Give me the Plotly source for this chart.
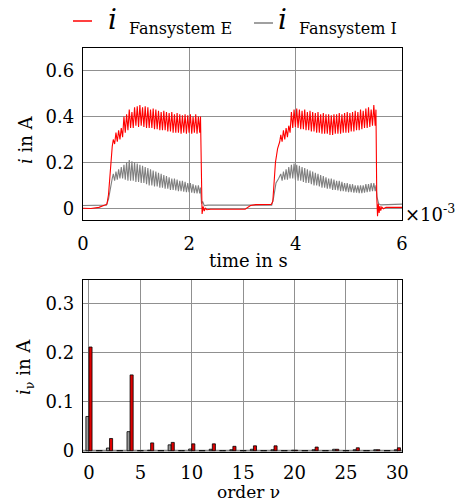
import plotly.graph_objects as go

FONT = "DejaVu Serif"
RED = "#ff0000"
GRAY = "#808080"
GRID = "#909090"
W, H = 461, 503

# ---------------- time signal (time in ms, current in A) ----------------
CYCLE_MS = 0.05  # switching period of the ripple

# Fansystem E (red)
e_pre_t = [0.0, 0.15, 0.30, 0.38, 0.45, 0.48, 0.52, 0.55]
e_pre_i = [0.0, -0.001, 0.004, 0.012, 0.018, 0.06, 0.20, 0.27]
e_p1_start = 0.57
e_p1_peak = [0.30, 0.33, 0.34, 0.35, 0.40, 0.41, 0.43, 0.42, 0.44, 0.445, 0.45,
             0.44, 0.445, 0.44, 0.43, 0.435, 0.43, 0.425, 0.42, 0.425, 0.42, 0.415,
             0.42, 0.41, 0.415, 0.41, 0.405, 0.41, 0.405, 0.41, 0.40, 0.41, 0.40]
e_p1_trough = [0.28, 0.29, 0.30, 0.31, 0.33, 0.34, 0.35, 0.35, 0.36, 0.355, 0.36,
               0.355, 0.35, 0.35, 0.35, 0.345, 0.345, 0.34, 0.34, 0.34, 0.335, 0.335,
               0.33, 0.33, 0.33, 0.325, 0.33, 0.325, 0.33, 0.325, 0.33, 0.325, 0.33]
e_mid_t = [2.21, 2.225, 2.24, 2.26, 2.28, 2.30, 2.33, 2.40, 3.05, 3.15, 3.25,
           3.54, 3.57, 3.62, 3.66, 3.70]
e_mid_i = [0.40, 0.05, -0.025, 0.008, -0.012, 0.0, -0.006, -0.004, -0.004, 0.012,
           0.016, 0.017, 0.03, 0.20, 0.26, 0.29]
e_p2_start = 3.72
e_p2_peak = [0.32, 0.34, 0.35, 0.36, 0.42, 0.43, 0.435, 0.43, 0.425, 0.43, 0.42,
             0.425, 0.42, 0.415, 0.42, 0.41, 0.415, 0.41, 0.41, 0.405, 0.41, 0.41,
             0.415, 0.41, 0.415, 0.42, 0.415, 0.42, 0.425, 0.42, 0.43, 0.425, 0.435,
             0.44, 0.43, 0.45]
e_p2_trough = [0.29, 0.30, 0.31, 0.33, 0.35, 0.355, 0.35, 0.345, 0.345, 0.34, 0.34,
               0.335, 0.335, 0.33, 0.33, 0.325, 0.325, 0.325, 0.32, 0.32, 0.325,
               0.325, 0.325, 0.33, 0.33, 0.33, 0.335, 0.335, 0.34, 0.34, 0.345,
               0.35, 0.35, 0.355, 0.36, 0.36]
e_post_t = [5.51, 5.525, 5.54, 5.555, 5.57, 5.585, 5.60, 5.62, 5.65, 5.70, 6.0]
e_post_i = [0.43, 0.05, -0.035, 0.02, -0.02, 0.01, -0.01, 0.005, -0.002, 0.004, 0.004]

# Fansystem I (gray)
g_pre_t = [0.0, 0.30, 0.44, 0.48, 0.52, 0.55]
g_pre_i = [0.012, 0.012, 0.014, 0.04, 0.10, 0.13]
g_p1_start = 0.57
g_p1_peak = [0.15, 0.16, 0.17, 0.18, 0.19, 0.20, 0.21, 0.205, 0.20, 0.195, 0.19,
             0.185, 0.18, 0.175, 0.17, 0.165, 0.16, 0.155, 0.15, 0.145, 0.14, 0.135,
             0.13, 0.13, 0.125, 0.12, 0.12, 0.115, 0.11, 0.11, 0.105, 0.10, 0.10]
g_p1_trough = [0.12, 0.125, 0.13, 0.13, 0.125, 0.12, 0.12, 0.12, 0.115, 0.115, 0.11,
               0.11, 0.105, 0.10, 0.10, 0.095, 0.095, 0.09, 0.09, 0.085, 0.085, 0.08,
               0.08, 0.078, 0.075, 0.075, 0.072, 0.07, 0.07, 0.068, 0.066, 0.065, 0.065]
g_mid_t = [2.21, 2.23, 2.25, 2.28, 2.35, 3.55, 3.58, 3.63, 3.68]
g_mid_i = [0.09, 0.02, 0.03, 0.012, 0.014, 0.014, 0.04, 0.11, 0.13]
g_p2_start = 3.72
g_p2_peak = [0.15, 0.16, 0.17, 0.18, 0.19, 0.195, 0.19, 0.185, 0.18, 0.175, 0.17,
             0.165, 0.16, 0.155, 0.15, 0.145, 0.14, 0.135, 0.13, 0.13, 0.125, 0.12,
             0.12, 0.115, 0.11, 0.11, 0.105, 0.105, 0.10, 0.10, 0.10, 0.10, 0.105,
             0.105, 0.11, 0.11]
g_p2_trough = [0.12, 0.125, 0.125, 0.13, 0.13, 0.125, 0.12, 0.12, 0.115, 0.11, 0.11,
               0.105, 0.10, 0.10, 0.095, 0.09, 0.09, 0.085, 0.085, 0.08, 0.08, 0.078,
               0.075, 0.075, 0.072, 0.07, 0.07, 0.068, 0.068, 0.066, 0.066, 0.068,
               0.07, 0.072, 0.075, 0.075]
g_post_t = [5.51, 5.53, 5.56, 5.60, 6.0]
g_post_i = [0.10, 0.05, 0.02, 0.015, 0.018]

# ---------------- harmonic spectrum ----------------
orders = list(range(31))
spec_e = [0.212, 0, 0.025, 0, 0.155, 0, 0.016, 0, 0.017, 0, 0.014, 0, 0.014, 0,
          0.009, 0, 0.010, 0, 0.010, 0, 0.001, 0, 0.0075, 0, 0.003, 0, 0.006, 0,
          0.002, 0, 0.006]
spec_i = [0.070, 0, 0.0055, 0, 0.039, 0, 0.001, 0, 0.012, 0, 0.0035, 0, 0.003, 0,
          0.002, 0, 0.003, 0, 0.002, 0, 0.001, 0, 0.002, 0, 0.003, 0, 0.002, 0,
          0.002, 0, 0.002]


def ripple(start, peaks, troughs):
    """Alternate peak / trough samples, one pair per switching period."""
    t, v = [], []
    for k, (p, q) in enumerate(zip(peaks, troughs)):
        t += [start + k * CYCLE_MS, start + (k + 0.5) * CYCLE_MS]
        v += [p, q]
    return t, v


def build(pre_t, pre_i, s1, pk1, tr1, mid_t, mid_i, s2, pk2, tr2, post_t, post_i):
    t1, v1 = ripple(s1, pk1, tr1)
    t2, v2 = ripple(s2, pk2, tr2)
    return (pre_t + t1 + mid_t + t2 + post_t,
            pre_i + v1 + mid_i + v2 + post_i)


te, ie = build(e_pre_t, e_pre_i, e_p1_start, e_p1_peak, e_p1_trough, e_mid_t, e_mid_i,
               e_p2_start, e_p2_peak, e_p2_trough, e_post_t, e_post_i)
tg, ig = build(g_pre_t, g_pre_i, g_p1_start, g_p1_peak, g_p1_trough, g_mid_t, g_mid_i,
               g_p2_start, g_p2_peak, g_p2_trough, g_post_t, g_post_i)

fig = go.Figure()
fig.add_trace(go.Scatter(x=tg, y=ig, mode="lines", line=dict(color=GRAY, width=1.1),
                         showlegend=False, xaxis="x", yaxis="y"))
fig.add_trace(go.Scatter(x=te, y=ie, mode="lines", line=dict(color=RED, width=1.1),
                         showlegend=False, xaxis="x", yaxis="y"))
fig.add_trace(go.Bar(x=orders, y=spec_i, marker=dict(color="#9a9a9a",
                     line=dict(color="black", width=0.8)),
                     showlegend=False, xaxis="x2", yaxis="y2"))
fig.add_trace(go.Bar(x=orders, y=spec_e, marker=dict(color="#e00000",
                     line=dict(color="black", width=0.8)),
                     showlegend=False, xaxis="x2", yaxis="y2"))


def px(x):
    return x / W


def py(y):
    return 1 - y / H


tick_font = dict(family=FONT, size=18, color="black")
axis_common = dict(showgrid=True, gridcolor=GRID, gridwidth=1.3, showline=True,
                   linecolor="black", linewidth=1.4, mirror=True, zeroline=False,
                   ticks="", tickfont=tick_font, automargin=False)

xdom = [px(83), px(402)]
fig.update_layout(
    width=W, height=H, margin=dict(l=0, r=0, t=0, b=0),
    paper_bgcolor="white", plot_bgcolor="white",
    barmode="group", bargap=0.4, bargroupgap=0.0,
    xaxis=dict(domain=xdom, range=[0, 6], tickvals=[0, 2, 4, 6],
               ticktext=["0", "2", "4", "6"], anchor="y", ticklabelstandoff=7,
               **axis_common),
    yaxis=dict(domain=[py(220), py(47.7)], range=[-0.051, 0.7],
               tickvals=[0, 0.2, 0.4, 0.6], ticktext=["0", "0.2", "0.4", "0.6"],
               anchor="x", ticklabelstandoff=4, **axis_common),
    xaxis2=dict(domain=xdom, range=[-0.58, 30.45], tickvals=[0, 5, 10, 15, 20, 25, 30],
                ticktext=["0", "5", "10", "15", "20", "25", "30"],
                anchor="y2", ticklabelstandoff=4, **axis_common),
    yaxis2=dict(domain=[py(451.7), py(280)], range=[-0.002, 0.349],
                tickvals=[0, 0.1, 0.2, 0.3], ticktext=["0", "0.1", "0.2", "0.3"],
                anchor="x2", ticklabelstandoff=4, **axis_common),
)

txt = dict(family=FONT, color="black")
annotations = [
    dict(text="time in s", x=px(249), y=py(249), yanchor="top",
         font=dict(size=18, **txt)),
    dict(text="order ν", x=px(249), y=py(503), yanchor="bottom",
         font=dict(size=17, **txt)),
    dict(text="<i>i</i> in A", x=px(25), y=py(140), textangle=-90,
         font=dict(size=18, **txt)),
    dict(text="<i>i</i><sub>ν</sub> in A", x=px(25), y=py(367), textangle=-90,
         font=dict(size=18, **txt)),
    dict(text="×10<sup>-3</sup>", x=px(404), y=py(213), xanchor="left",
         font=dict(size=18, **txt)),
    # legend entries
    dict(text="<i>i</i>", x=px(112), y=py(20), font=dict(size=28, **txt)),
    dict(text="Fansystem E", x=px(128), y=py(29), xanchor="left",
         font=dict(size=16, **txt)),
    dict(text="<i>i</i>", x=px(282), y=py(20), font=dict(size=28, **txt)),
    dict(text="Fansystem I", x=px(298), y=py(29), xanchor="left",
         font=dict(size=16, **txt)),
]
for a in annotations:
    a.setdefault("xanchor", "center")
    a.setdefault("yanchor", "middle")
    a.update(xref="paper", yref="paper", showarrow=False, borderpad=0)
fig.update_layout(annotations=annotations)

fig.update_layout(shapes=[
    dict(type="line", xref="paper", yref="paper", x0=px(73), x1=px(92),
         y0=py(21), y1=py(21), line=dict(color=RED, width=1.5)),
    dict(type="line", xref="paper", yref="paper", x0=px(254), x1=px(273),
         y0=py(23), y1=py(23), line=dict(color=GRAY, width=1.5)),
    # zero baseline of the spectrum
    dict(type="line", xref="x2", yref="y2", x0=-0.58, x1=30.45, y0=0, y1=0,
         line=dict(color="#8a8a8a", width=2), layer="below"),
])

fig.write_html("out.html")
